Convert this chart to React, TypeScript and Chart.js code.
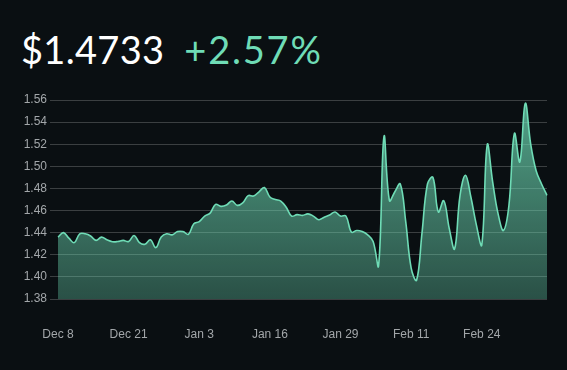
import React, { useEffect, useRef } from "react";
import { Chart, registerables } from "chart.js";

Chart.register(...registerables);

const priceText = "$1.4733";
const changeText = "+2.57%";

const startDate = "2023-12-08";
const dayCount = 91;
const tickEvery = 13;

const prices = [
  1.436, 1.440, 1.435, 1.431, 1.439, 1.439, 1.437, 1.433, 1.436, 1.4335,
  1.4318, 1.432, 1.433, 1.432, 1.4375, 1.431, 1.4295, 1.4335, 1.4265, 1.436,
  1.439, 1.438, 1.441, 1.441, 1.4385, 1.448, 1.450, 1.455, 1.4577, 1.4656,
  1.4638, 1.465, 1.4686, 1.4647, 1.467, 1.4735, 1.4732, 1.477, 1.4808, 1.4722,
  1.470, 1.4686, 1.463, 1.455, 1.4563, 1.4556, 1.457, 1.455, 1.4517, 1.454,
  1.456, 1.4587, 1.455, 1.455, 1.4405, 1.442, 1.441, 1.438, 1.432, 1.410,
  1.527, 1.469, 1.477, 1.484, 1.450, 1.408, 1.397, 1.440, 1.484, 1.490,
  1.4587, 1.469, 1.444, 1.4254, 1.474, 1.4919, 1.472, 1.447, 1.429, 1.5195,
  1.486, 1.457, 1.442, 1.465, 1.5298, 1.504, 1.557, 1.520, 1.496, 1.484,
  1.4738,
];

const yMin = 1.38;
const yMax = 1.56;
const yStep = 0.02;

function buildLabels(): string[] {
  const out: string[] = [];
  const d0 = new Date(startDate + "T00:00:00Z");
  for (let i = 0; i < dayCount; i++) {
    const d = new Date(d0.getTime() + i * 86400000);
    out.push(
      d.toLocaleDateString("en-US", { month: "short", day: "numeric", timeZone: "UTC" })
    );
  }
  return out;
}

const LINE = "#6fdcb6";
const BG = "#0a0f12";

export default function App() {
  const ref = useRef<HTMLCanvasElement | null>(null);

  useEffect(() => {
    document.body.style.margin = "0";
    document.body.style.background = BG;
    const canvas = ref.current;
    if (!canvas) return;
    const labels = buildLabels();
    const chart = new Chart(canvas, {
      type: "line",
      data: {
        labels,
        datasets: [
          {
            data: prices,
            borderColor: LINE,
            borderWidth: 1.6,
            pointRadius: 0,
            tension: 0.4,
            fill: "start",
            backgroundColor: (ctx: any) => {
              const c = ctx.chart;
              const area = c.chartArea;
              if (!area) return "rgba(111,220,182,0.4)";
              const g = c.ctx.createLinearGradient(0, area.top, 0, area.bottom);
              g.addColorStop(0, "rgba(111,220,182,0.72)");
              g.addColorStop(1, "rgba(111,220,182,0.32)");
              return g;
            },
          },
        ],
      },
      options: {
        animation: false,
        responsive: false,
        maintainAspectRatio: false,
        layout: { padding: { left: 0, right: 20, top: 100, bottom: 0 } },
        plugins: { legend: { display: false }, tooltip: { enabled: false } },
        scales: {
          x: {
            grid: { display: false, drawTicks: false },
            border: { display: false },
            ticks: {
              autoSkip: false,
              maxRotation: 0,
              minRotation: 0,
              padding: 28,
              color: "#a3a7aa",
              font: { family: "Liberation Sans, Arial, sans-serif", size: 12 },
              callback: (_v: any, i: number) => (i % tickEvery === 0 ? labels[i] : ""),
            },
            afterFit: (s: any) => {
              s.height = 71;
              s.paddingRight = 0;
              s.paddingLeft = 0;
            },
          },
          y: {
            min: yMin,
            max: yMax,
            grid: { color: "rgba(255,255,255,0.2)", lineWidth: 1, tickLength: 8 },
            border: { display: false },
            ticks: {
              stepSize: yStep,
              padding: 3,
              color: "#a3a7aa",
              font: { family: "Liberation Sans, Arial, sans-serif", size: 12 },
              callback: (v: any) => Number(v).toFixed(2),
            },
            afterFit: (s: any) => {
              s.width = 58;
            },
          },
        },
      },
    });
    return () => chart.destroy();
  }, []);

  return (
    <div style={{ position: "fixed", left: 0, top: 0, width: 567, height: 370, background: BG }}>
      <div
        style={{
          position: "absolute",
          left: 21,
          top: 28,
          fontFamily: "Lato, sans-serif",
          fontSize: 38,
          lineHeight: "42px",
          whiteSpace: "nowrap",
        }}
      >
        <span style={{ color: "#ffffff", letterSpacing: "0.3px" }}>{priceText}</span>
        <span style={{ color: LINE, marginLeft: 20, letterSpacing: "1.8px" }}>{changeText}</span>
      </div>
      <canvas ref={ref} width={567} height={370} style={{ position: "absolute", left: 0, top: 0 }} />
    </div>
  );
}
